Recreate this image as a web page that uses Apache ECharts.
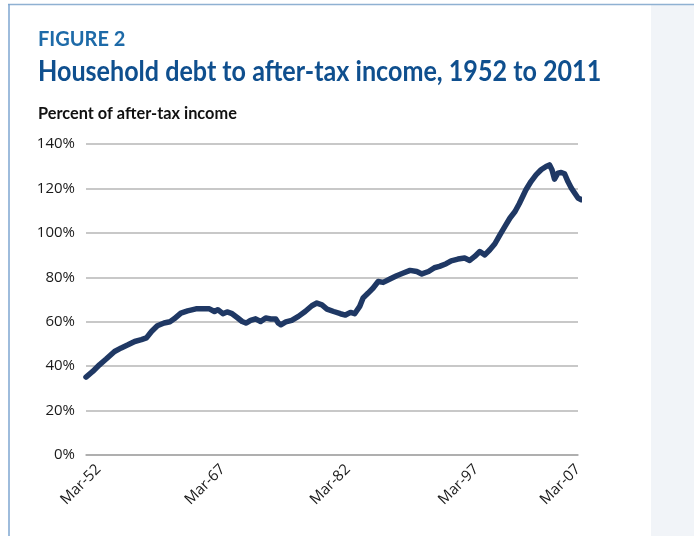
<!DOCTYPE html>
<html>
<head>
<meta charset="utf-8">
<script src="https://cdn.jsdelivr.net/npm/echarts@6/dist/echarts.min.js"></script>
<style>
html,body{margin:0;padding:0;background:#fff;}
#c{width:694px;height:536px;}
</style>
</head>
<body>
<div id="c"></div>
<script>
// ---- data ----
const years = [1952.0,1952.8,1953.6,1954.4,1955.4,1956.2,1957.0,1957.8,1958.6,1959.2,1959.8,1960.5,1961.3,1962.0,1962.5,1963.3,1964.1,1965.1,1965.9,1966.7,1967.3,1967.7,1968.3,1968.8,1969.4,1970.0,1970.6,1971.1,1971.6,1972.2,1972.8,1973.4,1974.0,1974.6,1974.9,1975.2,1975.8,1976.5,1977.3,1978.1,1978.9,1979.5,1980.1,1980.7,1981.5,1982.3,1982.9,1983.5,1984.0,1984.6,1985.0,1985.6,1986.2,1986.8,1987.4,1988.2,1989.0,1989.8,1990.6,1991.4,1992.0,1992.8,1993.5,1994.1,1994.9,1995.5,1996.3,1997.1,1997.7,1998.3,1998.9,1999.5,2000.1,2000.7,2001.3,2001.9,2002.5,2003.1,2003.6,2004.4,2005.0,2005.6,2006.2,2006.8,2007.2,2007.5,2007.8,2008.2,2008.6,2009.0,2009.4,2009.8,2010.2,2010.6,2011.0,2011.4];
const debtPct = [35.1,37.6,40.6,43.2,46.6,48.2,49.6,51.1,51.9,52.7,55.6,58.2,59.4,60.0,61.3,63.9,64.9,65.8,65.8,65.8,64.6,65.4,63.6,64.4,63.6,61.9,60.1,59.4,60.6,61.3,60.1,61.7,61.2,61.2,59.4,58.6,59.9,60.6,62.4,64.6,67.2,68.4,67.6,65.7,64.6,63.6,63.0,64.2,63.6,66.9,70.7,72.9,75.2,78.1,77.7,79.2,80.7,81.9,83.1,82.6,81.5,82.6,84.3,84.9,86.1,87.4,88.2,88.7,87.6,89.4,91.6,90.1,92.4,95.1,99.1,102.9,106.7,109.6,113.1,119.4,123.1,126.1,128.4,129.9,130.6,128.4,124.2,126.9,127.2,126.6,123.1,120.2,117.9,115.7,114.9,115.2];
const tickLabels = ['Mar-52','Mar-67','Mar-82','Mar-97','Mar-07'];
const tickAt = [1953.5, 1968.3, 1983.2, 1998.5, 2010.6];

const seriesData = years.map((y,i)=>[y, debtPct[i]]);

const chart = echarts.init(document.getElementById('c'), null, {renderer:'canvas'});
chart.setOption({
  animation:false,
  backgroundColor:'#ffffff',
  grid:{left:86, right:116, top:144, bottom:81, containLabel:false},
  graphic:[
    {type:'rect', z:-10, shape:{x:651,y:5,width:43,height:531}, style:{fill:'#f1f4f8'}},
    {type:'line', shape:{x1:8,y1:4.5,x2:694,y2:4.5}, style:{stroke:'#8fb1d2', lineWidth:1.5}},
    {type:'line', shape:{x1:9,y1:4,x2:9,y2:536}, style:{stroke:'#7ea6d0', lineWidth:1.5}},
    {type:'text', left:38, top:30, scaleX:1.0, style:{text:'FIGURE 2', fill:'#1d6aa8', font:'bold 20px Lato, "Open Sans", sans-serif'}},
    {type:'text', left:38, top:57, scaleX:0.866, style:{text:'Household debt to after-tax income, 1952 to 2011', fill:'#0f4f8e', font:'bold 29px Lato, "Open Sans", sans-serif'}},
    {type:'text', left:38, top:105, scaleX:0.96, style:{text:'Percent of after-tax income', fill:'#111111', font:'bold 17px Lato, "Open Sans", sans-serif'}}
  ],
  xAxis:{
    type:'value', min:1952, max:2010.6,
    axisLine:{show:true, lineStyle:{color:'#a6a6a6', width:1.5}},
    axisTick:{show:false},
    splitLine:{show:false},
    axisLabel:{
      customValues: tickAt,
      rotate:45, margin:12,
      color:'#1a1a1a', fontSize:15, fontFamily:'"Open Sans", sans-serif',
      formatter:(v)=>{ const i = tickAt.findIndex(t=>Math.abs(t-v)<1e-6); return i>=0 ? tickLabels[i] : ''; }
    }
  },
  yAxis:{
    type:'value', min:0, max:140, interval:20,
    axisLine:{show:false}, axisTick:{show:false},
    splitLine:{lineStyle:{color:'#c8c8c8', width:2}},
    axisLabel:{formatter:'{value}%', color:'#1a1a1a', fontSize:15, margin:11, fontFamily:'"Open Sans", sans-serif'}
  },
  series:[{
    type:'line', data:seriesData, showSymbol:false, clip:false,
    lineStyle:{color:'#1f3864', width:5.5, join:'round', cap:'round'},
    z:5
  }]
});
</script>
</body>
</html>
